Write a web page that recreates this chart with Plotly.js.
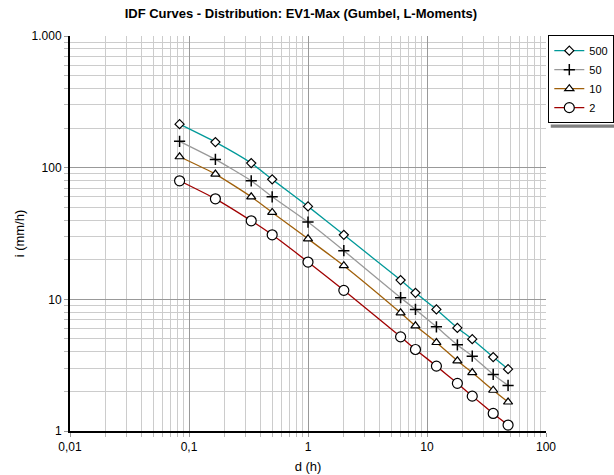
<!DOCTYPE html>
<html>
<head>
<meta charset="utf-8">
<script src="https://cdn.plot.ly/plotly-3.0.1.min.js"></script>
<style>html,body{margin:0;padding:0;background:#fff}#chart{width:614px;height:475px}</style>
</head>
<body>
<div id="chart"></div>
<script>
// Durations (h)
const durations = [5/60, 10/60, 20/60, 0.5, 1, 2, 6, 8, 12, 18, 24, 36, 48];
// Intensities (mm/h) per return period
const i500 = [214, 156.5, 108.4, 81.5, 50.8, 30.9, 14.0, 11.2, 8.38, 6.07, 4.98, 3.64, 2.95];
const i50  = [158.5, 115.6, 79.5, 60.1, 38.6, 23.4, 10.3, 8.38, 6.18, 4.51, 3.70, 2.69, 2.22];
const i10  = [121, 89.4, 60.1, 45.7, 28.8, 18.0, 7.90, 6.29, 4.70, 3.41, 2.78, 2.04, 1.66];
const i2   = [79.5, 58.0, 39.5, 30.9, 19.2, 11.7, 5.19, 4.16, 3.11, 2.30, 1.84, 1.36, 1.11];
const seriesNames = ['500', '50', '10', '2'];

const xTickVals = [0.01, 0.1, 1, 10, 100];
const xTickText = ['0,01', '0,1', '1', '10', '100'];
const yTickVals = [1, 10, 100, 1000];
const yTickText = ['1', '10', '100', '1.000'];

function minorVals(lo, hi) {
  const out = [];
  for (let e = lo; e < hi; e++) for (let m = 2; m <= 9; m++) out.push(m * Math.pow(10, e));
  return out;
}

const styles = [
  {color: '#009999', symbol: 'diamond', size: 7},
  {color: '#999999', symbol: 'cross-thin', size: 8},
  {color: '#A0600A', symbol: 'triangle-up', size: 8},
  {color: '#A00000', symbol: 'circle', size: 10}
];
const seriesVals = [i500, i50, i10, i2];

const traces = seriesVals.map((vals, k) => ({
  x: durations, y: vals, name: seriesNames[k], type: 'scatter', mode: 'lines+markers',
  line: {color: styles[k].color, width: 1.3, shape: 'spline', smoothing: 0.5},
  marker: {symbol: styles[k].symbol, size: styles[k].size,
           color: styles[k].symbol === 'cross-thin' ? '#000' : '#fff',
           line: {color: '#000', width: styles[k].symbol === 'cross-thin' ? 1.5 : 1.2}},
  cliponaxis: false
}));

const fam = 'Liberation Sans, Arial, sans-serif';

const layout = {
  width: 614, height: 475,
  margin: {l: 70, r: 68, t: 36, b: 44, pad: 0},
  paper_bgcolor: '#fff', plot_bgcolor: '#fff',
  font: {family: fam, color: '#000', size: 12},
  showlegend: true,
  title: {text: '<b>IDF Curves - Distribution: EV1-Max (Gumbel, L-Moments)</b>',
          font: {family: fam, size: 13, color: '#000'},
          x: 0.49, xref: 'container', y: 0.972, yanchor: 'middle'},
  xaxis: {
    type: 'log', range: [-2, 2],
    tickmode: 'array', tickvals: xTickVals, ticktext: xTickText,
    showgrid: true, gridcolor: '#999999', gridwidth: 1,
    showline: true, linecolor: '#000', linewidth: 2,
    ticks: 'outside', ticklen: 4, tickcolor: '#999',
    minor: {tickmode: 'array', tickvals: minorVals(-2, 2), showgrid: true,
            gridcolor: '#cccccc', gridwidth: 1, ticks: 'outside', ticklen: 4, tickcolor: '#bbb'},
    zeroline: false,
    title: {text: 'd (h)', font: {family: fam, size: 13, color: '#000'}, standoff: 8},
    tickfont: {family: fam, size: 12, color: '#000'}
  },
  yaxis: {
    type: 'log', range: [0, 3],
    tickmode: 'array', tickvals: yTickVals, ticktext: yTickText,
    showgrid: true, gridcolor: '#999999', gridwidth: 1,
    showline: true, linecolor: '#000', linewidth: 2,
    ticks: 'outside', ticklen: 4, tickcolor: '#999',
    minor: {tickmode: 'array', tickvals: minorVals(0, 3), showgrid: true,
            gridcolor: '#cccccc', gridwidth: 1, ticks: 'outside', ticklen: 4, tickcolor: '#bbb'},
    zeroline: false,
    title: {text: 'i (mm/h)', font: {family: fam, size: 13, color: '#000'}, standoff: 4},
    tickfont: {family: fam, size: 12, color: '#000'}
  },
  legend: {
    xref: 'container', yref: 'container',
    x: 0.893, xanchor: 'left', y: 0.926, yanchor: 'top',
    bgcolor: '#fff', bordercolor: '#000', borderwidth: 1,
    font: {family: fam, size: 11, color: '#000'},
    itemwidth: 30, tracegroupgap: 0
  },
  shapes: [
    {type: 'rect', xref: 'paper', yref: 'paper', x0: 1.01, x1: 1.3, y0: 0.768, y1: 0.776,
     line: {width: 0}, fillcolor: '#808080', layer: 'above'}
  ]
};

Plotly.newPlot('chart', traces, layout, {displayModeBar: false, staticPlot: true});
</script>
</body>
</html>
